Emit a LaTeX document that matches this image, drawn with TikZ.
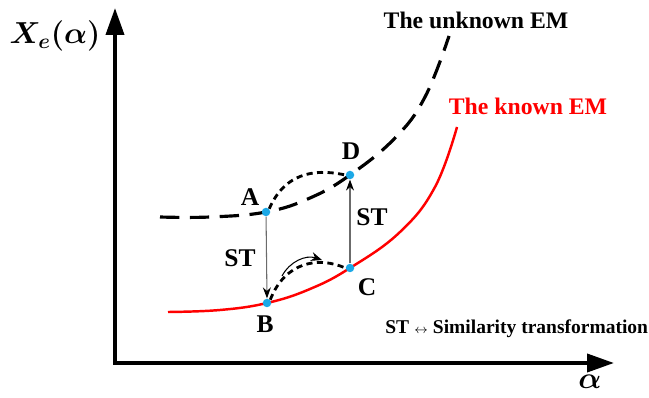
\documentclass[tikz,border=0pt]{standalone}
\usepackage{fontspec}
\setmainfont{Liberation Serif}
\usepackage{amsmath}
\usepackage{bm}
\usetikzlibrary{
  arrows.meta,
  positioning,
  calc
}
\definecolor{emKnown}{HTML}{FF0000}
\definecolor{emDot}{HTML}{1BA8E6}
\definecolor{emGray}{HTML}{6B6B6B}
\tikzset{
  axisline/.style={line width=2.2pt, -{Triangle[length=5.4mm, width=3.6mm]}},
  unknownem/.style={line width=1.8pt, dash pattern=on 11pt off 6pt},
  knownem/.style={line width=1.4pt, emKnown},
  emdot/.style={circle, fill=emDot, inner sep=0pt, minimum size=1.7mm},
  stline/.style={line width=0.6pt, emGray, -{Stealth[length=2.2mm, width=1.6mm, color=black]}},
  morph/.style={line width=1.6pt, dash pattern=on 3.5pt off 2.5pt},
  turn/.style={line width=0.6pt, -{Stealth[length=2.2mm, width=1.8mm]}},
  ptlabel/.style={font=\fontsize{14.5}{16}\selectfont\bfseries},
  tag/.style={font=\fontsize{13.5}{15}\selectfont\bfseries}
}
\begin{document}
\begin{tikzpicture}[x=0.02cm, y=-0.02cm]
  \useasboundingbox (0,0) rectangle (649,398);
  % axes
  \coordinate (origin) at (115,363);
  \coordinate (ytip) at (115,8);
  \coordinate (xtip) at (614,363);
  \draw[axisline] ([yshift=-1.1pt]origin) -- (ytip);
  \draw[axisline] ([xshift=-1.1pt]origin) -- (xtip);
  \node (ylab) at (55,36) {\fontsize{17}{19}\selectfont$\bm{X_{e}(\alpha)}$};
  \node (xlab) at (590,382) {\fontsize{19}{21}\selectfont$\bm{\alpha}$};
  % the two curves
  \draw[unknownem] plot[smooth, tension=0.7] coordinates {
    (160,217) (210,217) (266,212) (310,198) (350,175) (395,138) (425,97) (449,36)};
  \draw[knownem] plot[smooth, tension=0.7] coordinates {
    (168,312) (220,310) (267,303) (310,289) (350,268) (400,232) (435,187) (457,127)};
  \node[tag] (unknown) at (476,20) {The unknown EM};
  \node[tag, emKnown] (known) at (528,106) {The known EM};
  % points
  \node[emdot] (A) at (266,212) {};
  \node[emdot] (B) at (267,303) {};
  \node[emdot] (C) at (350,268) {};
  \node[emdot] (D) at (350,175) {};
  \node[ptlabel] (lA) at (250,197) {A};
  \node[ptlabel] (lB) at (265,324) {B};
  \node[ptlabel] (lC) at (367,287) {C};
  \node[ptlabel] (lD) at (351,151) {D};
  % similarity transformations
  \draw[stline] (A) -- (B.north);
  \draw[stline] (C) -- (D.south);
  \node[ptlabel] (st1) at (240,258) {ST};
  \node[ptlabel] (st2) at (372,217) {ST};
  % moves along the curves
  \draw[morph] (A.north east) .. controls (287,168) and (322,170) .. (D.west);
  \draw[morph] (B.north east) .. controls (285,262) and (318,256) .. (C.west);
  \coordinate (t0) at (282,276);
  \coordinate (t1) at (322,260);
  \draw[turn] (t0) to[bend left=40] (t1);
  % legend
  \node[anchor=west, inner sep=0pt, font=\fontsize{11.1}{12}\selectfont\bfseries] (legend) at (385,329)
    {ST {\normalfont\scriptsize$\leftrightarrow$} Similarity transformation};
\end{tikzpicture}
\end{document}
